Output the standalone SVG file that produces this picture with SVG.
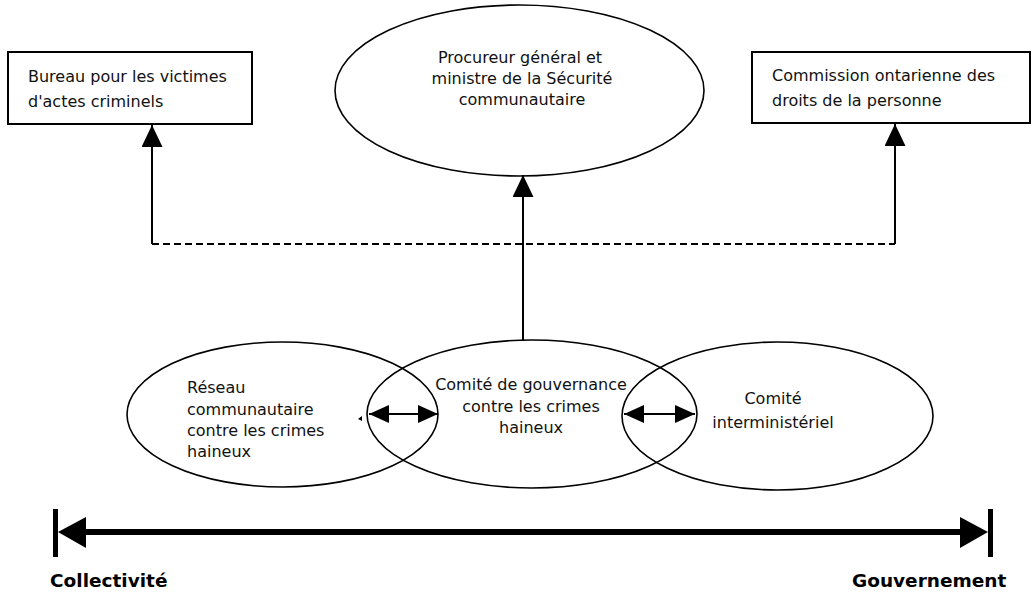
<svg xmlns="http://www.w3.org/2000/svg" width="1034" height="596" viewBox="0 0 1034 596">
<style>
.box{fill:#fff;stroke:#000;stroke-width:2}
.ell{fill:none;stroke:#000;stroke-width:1.6}
.t{font-family:"DejaVu Sans",Verdana,sans-serif;font-size:16px;fill:#111}
.tc{text-anchor:middle}
.b{font-family:"DejaVu Sans",Verdana,sans-serif;font-size:18.5px;font-weight:bold;fill:#000}
.ln{stroke:#000;stroke-width:2;fill:none}
.dash{stroke:#000;stroke-width:2;fill:none;stroke-dasharray:7,4}
</style>
<defs>
<marker id="arr" markerUnits="userSpaceOnUse" markerWidth="22" markerHeight="21" refX="22" refY="10.5" orient="auto"><path d="M0,0 L22,10.5 L0,21 z" fill="#000"/></marker>
<marker id="dbl" markerUnits="userSpaceOnUse" markerWidth="20" markerHeight="18" refX="20" refY="9" orient="auto-start-reverse"><path d="M0,0 L20,9 L0,18 z" fill="#000"/></marker>
</defs>
<rect width="1034" height="596" fill="#fff"/>

<g id="connectors">
<path class="dash" d="M152,244 H895"/>
<line class="ln" x1="152" y1="244" x2="152" y2="125" marker-end="url(#arr)"/>
<line class="ln" x1="895" y1="244" x2="895" y2="124" marker-end="url(#arr)"/>
<line class="ln" x1="523" y1="341" x2="523" y2="175" marker-end="url(#arr)"/>
<line class="ln" x1="369" y1="414" x2="438" y2="414" marker-start="url(#dbl)" marker-end="url(#dbl)"/>
<line class="ln" x1="624" y1="414" x2="695" y2="414" marker-start="url(#dbl)" marker-end="url(#dbl)"/>
<path d="M362,416 L358,419 L362,421 z" fill="#000"/>
</g>

<g id="bureau">
<rect class="box" x="8" y="52" width="244" height="72"/>
<text class="t" x="28" y="82">Bureau pour les victimes</text>
<text class="t" x="28" y="107">d'actes criminels</text>
</g>

<g id="procureur">
<ellipse class="ell" cx="519.5" cy="90.5" rx="184.5" ry="85.5"/>
<text class="t tc" x="520" y="63">Procureur général et</text>
<text class="t tc" x="522" y="84">ministre de la Sécurité</text>
<text class="t tc" x="522" y="105">communautaire</text>
</g>

<g id="commission">
<rect class="box" x="752" y="52" width="278" height="71"/>
<text class="t" x="772" y="81">Commission ontarienne des</text>
<text class="t" x="772" y="106">droits de la personne</text>
</g>

<g id="reseau">
<ellipse class="ell" cx="282.5" cy="414.5" rx="155.5" ry="72.5"/>
<text class="t" x="187" y="393">Réseau</text>
<text class="t" x="187" y="414.5">communautaire</text>
<text class="t" x="187" y="436">contre les crimes</text>
<text class="t" x="187" y="457">haineux</text>
</g>

<g id="gouvernance">
<ellipse class="ell" cx="532" cy="414" rx="165" ry="74"/>
<text class="t tc" x="531" y="390">Comité de gouvernance</text>
<text class="t tc" x="531" y="412">contre les crimes</text>
<text class="t tc" x="531" y="433">haineux</text>
</g>

<g id="interministeriel">
<ellipse class="ell" cx="777.5" cy="416" rx="155.5" ry="74"/>
<text class="t tc" x="773" y="404">Comité</text>
<text class="t tc" x="773" y="427.5">interministériel</text>
</g>

<g id="axe">
<rect x="53" y="509" width="5" height="48" fill="#000"/>
<rect x="988" y="509" width="5" height="48" fill="#000"/>
<line x1="84" y1="532" x2="964" y2="532" stroke="#000" stroke-width="6"/>
<polygon points="58,532 86,517 86,548" fill="#000"/>
<polygon points="988,532 960,517 960,548" fill="#000"/>
<text class="b" x="50" y="587">Collectivité</text>
<text class="b" x="852" y="587">Gouvernement</text>
</g>
</svg>
